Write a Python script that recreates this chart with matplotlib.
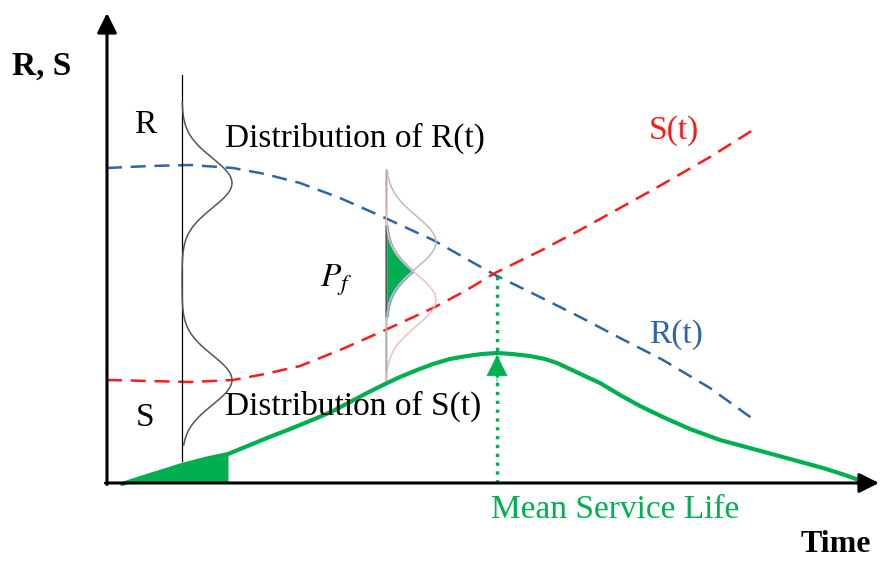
import numpy as np
import matplotlib.pyplot as plt

# coordinates: t to the right, value upwards
t_rs = [0, 43, 83, 126, 158, 193, 233, 276, 326, 358, 388, 433, 473, 513, 556, 603, 646]
r_vals = [315, 317, 318, 315, 309, 300, 285, 266, 243, 225, 208, 186, 166, 145, 123, 95, 64]
s_vals = [103, 102, 101, 103, 109, 117, 133, 152, 175, 192, 210, 232, 253, 275, 299, 326, 353]

t_life = [15, 43, 75, 98, 121, 143, 160, 178, 193, 210, 226, 243, 260, 276, 293,
          310, 326, 343, 360, 375, 390, 405, 423, 438, 450, 465, 480, 493, 513,
          533, 558, 583, 613, 650, 683, 716, 738, 760]
life_vals = [-1, 8, 18, 24, 29, 38, 45, 52, 58, 65, 72, 81, 90, 98, 106,
             113, 119, 124, 127, 129, 130, 129, 127, 124, 120, 113, 106, 100, 88,
             77, 65, 54, 43, 33, 24, 15, 8, 0]

mean_life = 390
cross_val = 208
fill_end = 121

# distributions drawn at two times
left_dist_t = 75
left_means = [300, 103]
left_sigma = 25
mid_dist_t = 279
mid_r_mean, mid_s_mean = 241, 183
mid_sigma = 26
dist_height = 50

blue = '#2E65A8'
red = '#FF1A1A'
green = '#00B050'

plt.rcParams['font.family'] = ['Liberation Serif', 'DejaVu Serif']
plt.rcParams['mathtext.fontset'] = 'stix'

fig = plt.figure(figsize=(8.8, 5.61), dpi=100)
ax = fig.add_axes([0, 0, 1, 1])
ax.set_xlim(-107, 773)
ax.set_ylim(-78, 483)
ax.axis('off')

# axes with arrows
arrow = dict(arrowstyle='-|>,head_length=0.6,head_width=0.3', color='black',
             lw=2.2, mutation_scale=20, shrinkA=0, shrinkB=0)
ax.annotate('', xy=(0, 470), xytext=(0, -1.5), arrowprops=arrow)
ax.annotate('', xy=(772, 0), xytext=(-1.5, 0), arrowprops=arrow)

# R(t) and S(t)
ax.plot(t_rs, r_vals, color=blue, lw=1.8, dashes=(6, 3.5))
ax.plot(t_rs, s_vals, color=red, lw=1.8, dashes=(6, 3.5))

# left distribution (bimodal)
y = np.linspace(left_means[1] - 65, left_means[0] + 80, 300)
dens = sum(np.exp(-0.5 * ((y - m) / left_sigma) ** 2) for m in left_means)
ax.plot([left_dist_t, left_dist_t], [22, 408], color='black', lw=0.9)
ax.plot(left_dist_t + dist_height * dens, y, color='#555555', lw=1.1)

# middle distribution with failure probability
y2 = np.linspace(mid_s_mean - 80, mid_r_mean + 72, 300)
g_r = dist_height * np.exp(-0.5 * ((y2 - mid_r_mean) / mid_sigma) ** 2)
g_s = dist_height * np.exp(-0.5 * ((y2 - mid_s_mean) / mid_sigma) ** 2)
ax.plot([mid_dist_t, mid_dist_t], [103, 313], color='#555555', lw=1.0)
ax.plot(mid_dist_t + g_r, y2, color='#BBBBBB', lw=1.1)
ax.plot(mid_dist_t + g_s, y2, color='#F6B8B8', lw=1.0)
ax.fill_betweenx(y2, mid_dist_t, mid_dist_t + np.minimum(g_r, g_s),
                 where=np.minimum(g_r, g_s) > 0.8,
                 facecolor=green, edgecolor='#7AA3DA', lw=2.0)

# service life curve
ax.plot(t_life, life_vals, color=green, lw=3.0, solid_capstyle='round')
fill_t = [t for t in t_life if t <= fill_end]
fill_v = life_vals[:len(fill_t)]
ax.fill_between(fill_t, 0, fill_v, color=green, lw=0)

# mean service life marker
ax.plot([mean_life, mean_life], [0, cross_val], color=green, lw=2.4, ls=':')
ax.annotate('', xy=(mean_life, 128), xytext=(mean_life, 100),
            arrowprops=dict(arrowstyle='-|>,head_length=0.4,head_width=0.2',
                            color=green, lw=0.5, mutation_scale=36,
                            shrinkA=0, shrinkB=0))

# labels
fs = 24
ax.text(-65, 417, 'R, S', fontsize=fs, fontweight='bold', ha='center', va='center')
ax.text(729, -61, 'Time', fontsize=23, fontweight='bold', ha='center', va='center')
ax.text(38, 358, 'R', fontsize=fs, ha='center', va='center')
ax.text(38, 65, 'S', fontsize=fs, ha='center', va='center')
ax.text(118, 345, 'Distribution of R(t)', fontsize=fs, ha='left', va='center')
ax.text(118, 77, 'Distribution of S(t)', fontsize=fs, ha='left', va='center')
ax.text(567, 352, 'S(t)', fontsize=fs, color=red, ha='center', va='center')
ax.text(569, 148, 'R(t)', fontsize=fs, color=blue, ha='center', va='center')
ax.text(229, 203, '$P_f$', fontsize=fs, ha='center', va='center')
ax.text(508, -27, 'Mean Service Life', fontsize=fs, color=green, ha='center', va='center')

fig.savefig('out.png', dpi=100)
